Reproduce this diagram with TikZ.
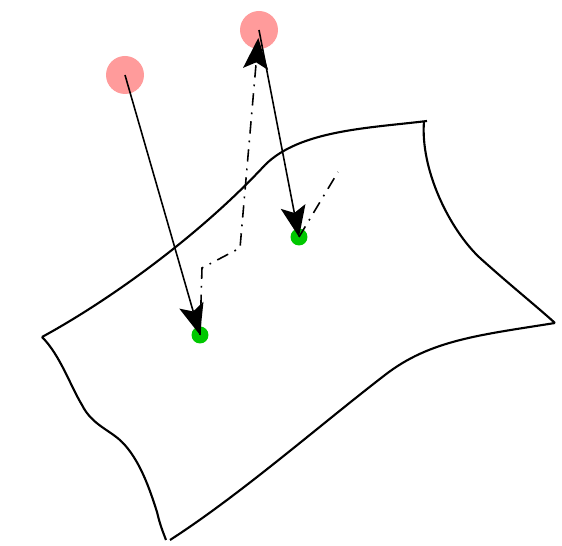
\documentclass[tikz,border=0pt]{standalone}
\usepackage{tikz}
\usetikzlibrary{arrows.meta, positioning}

\definecolor{pointpink}{RGB}{255,155,155}
\definecolor{pointgreen}{RGB}{0,200,0}

\begin{document}
\begin{tikzpicture}[
				x=0.02cm, y=-0.02cm,
				ambient/.style={
					circle,
					fill=pointpink,
					inner sep=0pt,
					minimum size=0.76cm
				},
				onsurf/.style={
					circle,
					fill=pointgreen,
					inner sep=0pt,
					minimum size=0.34cm
				},
				proj/.style={
					line width=0.9pt,
					-{Stealth[length=0.62cm, width=0.5cm, inset=0.13cm]}
				},
				hidden/.style={
					line width=0.9pt,
					dash pattern=on 7pt off 4pt on 1pt off 4pt
				}
				]
				
				\useasboundingbox (0,0) rectangle (562,546);
				
				% Surface
				\draw[line width=1.2pt, line join=round]
				(42,337) .. controls (110,300) and (200,235) .. (265,165)
				.. controls (300,130) and (370,128) .. (427,121)
				(424,121) .. controls (420,170) and (450,230) .. (480,258)
				.. controls (510,285) and (535,305) .. (555,323)
				(555,323) .. controls (480,335) and (430,340) .. (385,375)
				.. controls (320,425) and (240,495) .. (170,540)
				(42,337) .. controls (60,355) and (70,385) .. (82,405)
				.. controls (92,425) and (110,430) .. (122,442)
				.. controls (140,460) and (150,490) .. (157,512)
				.. controls (160,525) and (163,532) .. (166,540);
				
				% Points off the surface
				\node[ambient] (p1) at (125,75) {};
				\node[ambient] (p2) at (259,30) {};
				
				% Points on the surface
				\node[onsurf] (g1) at (200,335) {};
				\node[onsurf] (g2) at (299,237) {};
				
				% Dash-dotted paths
				\coordinate (b1) at (202,268);
				\coordinate (b2) at (240,248);
				\coordinate (t2) at (338,172);
				\draw[hidden, shorten >=0.16cm,
				-{Stealth[length=0.62cm, width=0.5cm, inset=0.13cm]}]
				(g1.center) -- (b1) -- (b2) -- (p2.center);
				\draw[hidden] (g2.center) -- (t2);
				
				% Projections
				\draw[proj] (p1.center) -- (g1.center);
				\draw[proj] (p2.center) -- (g2.center);
				
			\end{tikzpicture}
\end{document}
